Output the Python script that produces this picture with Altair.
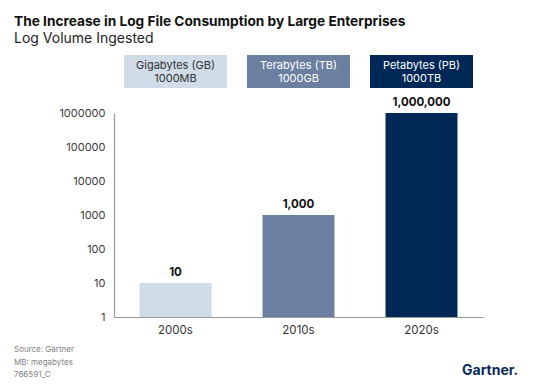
import altair as alt
import pandas as pd

decades = ["2000s", "2010s", "2020s"]
volumes = [10, 1000, 1000000]
value_labels = ["10", "1,000", "1,000,000"]
unit_names = ["Gigabytes (GB)", "Terabytes (TB)", "Petabytes (PB)"]
unit_sizes = ["1000MB", "1000GB", "1000TB"]
bar_colors = ["#d0dce8", "#6b7fa1", "#002857"]
y_ticks = [1, 10, 100, 1000, 10000, 100000, 1000000]

title = "The Increase in Log File Consumption by Large Enterprises"
subtitle = "Log Volume Ingested"
footer = ["Source: Gartner", "MB: megabytes", "766591_C"]
brand = "Gartner."

FONT = "Inter"

df = pd.DataFrame({
    "decade": decades,
    "volume": volumes,
    "label": value_labels,
    "unit": unit_names,
    "size": unit_sizes,
})

x = alt.X("decade:N", sort=decades,
          scale=alt.Scale(paddingInner=0.415, paddingOuter=0.2075),
          axis=alt.Axis(title=None, labelAngle=0, ticks=False, labelPadding=7,
                        labelFontSize=11.5, labelColor="#333333", labelFont=FONT,
                        domainColor="#9a9a9a", domainWidth=1.2))
color = alt.Color("decade:N", sort=decades,
                  scale=alt.Scale(domain=decades, range=bar_colors), legend=None)

base = alt.Chart(df)

bars = base.mark_bar().encode(
    x=x,
    y=alt.Y("volume:Q",
            scale=alt.Scale(type="log", domain=[1, 1000000]),
            axis=alt.Axis(title=None, values=y_ticks, format="d", grid=False,
                          ticks=False, labelPadding=9, labelFontSize=11,
                          labelColor="#3a3a3a", labelFont=FONT,
                          domainColor="#9a9a9a", domainWidth=1.2)),
    y2=alt.Y2(datum=1),
    color=color,
)

values = base.mark_text(baseline="bottom", dy=-5, fontSize=11.5,
                        fontWeight="bold", font=FONT, color="#111111").encode(
    x=x, y="volume:Q", text="label:N")

header_boxes = base.mark_bar(width=103).encode(
    x=x, y=alt.value(-58), y2=alt.value(-25), color=color)

header_color = alt.condition(alt.datum.decade == "2000s",
                             alt.value("#333333"), alt.value("#ffffff"))

header_line1 = base.mark_text(fontSize=11, font=FONT, baseline="alphabetic").encode(
    x=x, y=alt.value(-44), text="unit:N", color=header_color)

header_line2 = base.mark_text(fontSize=11, font=FONT, baseline="alphabetic").encode(
    x=x, y=alt.value(-31), text="size:N", color=header_color)

title_df = pd.DataFrame({"t": [title]})
sub_df = pd.DataFrame({"t": [subtitle]})
foot_df = pd.DataFrame({"t": ["\n".join(footer)]})
brand_df = pd.DataFrame({"t": [brand]})

title_mark = alt.Chart(title_df).mark_text(
    align="left", baseline="alphabetic", fontSize=13.7, fontWeight="bold",
    font=FONT, color="#111111").encode(
    x=alt.value(-100), y=alt.value(-87), text="t:N")

sub_mark = alt.Chart(sub_df).mark_text(
    align="left", baseline="alphabetic", fontSize=14, font=FONT,
    color="#222222").encode(
    x=alt.value(-100), y=alt.value(-70), text="t:N")

foot_mark = alt.Chart(foot_df).mark_text(
    align="left", baseline="alphabetic", fontSize=8, font=FONT,
    color="#808080", lineBreak="\n", lineHeight=12.5).encode(
    x=alt.value(-100), y=alt.value(239), text="t:N")

brand_mark = alt.Chart(brand_df).mark_text(
    align="left", baseline="alphabetic", fontSize=14, fontWeight="bold",
    font=FONT, color="#0a2a5c").encode(
    x=alt.value(348), y=alt.value(262), text="t:N")

chart = alt.layer(
    header_boxes, header_line1, header_line2, bars, values,
    title_mark, sub_mark, foot_mark, brand_mark,
).properties(
    width=369, height=204,
    autosize=alt.AutoSizeParams(type="none"),
    padding={"left": 106, "top": 105, "right": 49, "bottom": 62},
).configure(
    background="white",
    view=alt.ViewConfig(strokeWidth=0, stroke="transparent"),
)

chart.save("out.html", embed_options={"renderer": "svg", "actions": False})
